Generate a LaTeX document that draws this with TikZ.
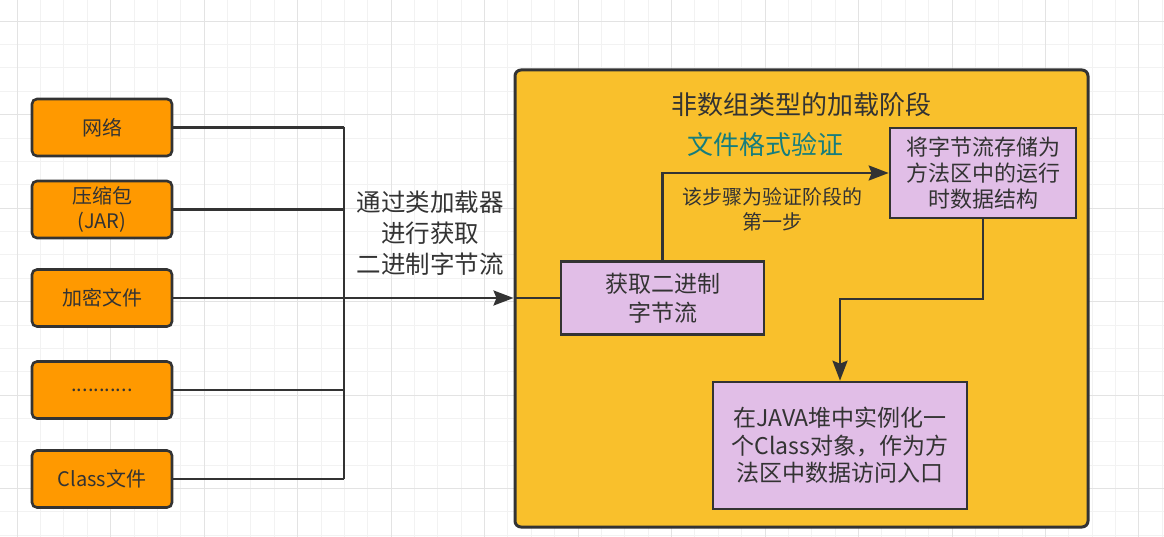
\documentclass[tikz,border=0pt]{standalone}
\usepackage{fontspec}
\setmainfont{Noto Sans CJK SC}
\usetikzlibrary{arrows.meta,calc}
\definecolor{ink}{HTML}{333333}
\definecolor{orangefill}{HTML}{FF9900}
\definecolor{yellowfill}{HTML}{F9C02C}
\definecolor{purplefill}{HTML}{E1BEE7}
\definecolor{tealtext}{HTML}{167D7D}
\definecolor{gridminor}{HTML}{F2F2F2}
\definecolor{gridmajor}{HTML}{E3E3E3}
\begin{document}
\begin{tikzpicture}[x=1pt,y=-1pt,
  src/.style={draw=ink, line width=2.6pt, fill=orangefill, rounded corners=5pt,
    minimum width=140pt, minimum height=57pt, text=ink,
    font=\fontsize{20}{25.6}\selectfont, align=center, inner sep=0pt},
  stagebox/.style={draw=ink, line width=2.6pt, fill=purplefill, text=ink,
    align=center, inner sep=0pt},
  conn/.style={draw=ink, line width=2.6pt},
  arr/.style={conn, -{Stealth[length=20pt,width=15pt,inset=3pt]}},
  txt/.style={text=ink, align=center, inner sep=0pt}]
\useasboundingbox (0,0) rectangle (1164,537);
\fill[white] (0,0) rectangle (1164,537);
% grid
\foreach \i in {0,...,49}{\draw[gridminor, line width=1pt] ({17.2+23.37*\i},0) -- ({17.2+23.37*\i},537);}
\foreach \i in {0,...,22}{\draw[gridminor, line width=1pt] (0,{21.2+23.37*\i}) -- (1164,{21.2+23.37*\i});}
\foreach \i in {0,4,...,48}{\draw[gridmajor, line width=1pt] ({17.2+23.37*\i},0) -- ({17.2+23.37*\i},537);}
\foreach \i in {0,4,...,20}{\draw[gridmajor, line width=1pt] (0,{21.2+23.37*\i}) -- (1164,{21.2+23.37*\i});}

% container
\node[draw=ink, line width=3pt, fill=yellowfill, rounded corners=6pt,
  minimum width=573pt, minimum height=457pt, inner sep=0pt] (stage) at (801.5,298.5) {};

% sources
\node[src] (net) at (102,127.5) {网络};
\node[src] (jar) at (102,209.5) {压缩包\\(JAR)};
\node[src] (enc) at (102,298) {加密文件};
\node[src] (etc) at (102,390) {...........};
\node[src] (cls) at (102,479) {Class文件};

% stage boxes
\node[stagebox, minimum width=203pt, minimum height=73pt, font=\fontsize{23}{29}\selectfont] (get) at (662.5,298) {获取二进制\\字节流};
\node[stagebox, minimum width=186pt, minimum height=90pt, font=\fontsize{22}{26}\selectfont] (store) at (983,173) {将字节流存储为\\方法区中的运行\\时数据结构};
\node[stagebox, minimum width=254pt, minimum height=127pt, font=\fontsize{23}{27.5}\selectfont] (inst) at (840,445.5) {在JAVA堆中实例化一\\个Class对象，作为方\\法区中数据访问入口};

% labels
\node[txt, font=\fontsize{26}{30}\selectfont] (title) at (801,105) {非数组类型的加载阶段};
\node[txt, text=tealtext, font=\fontsize{26}{30}\selectfont] (fmt) at (765,145) {文件格式验证};
\node[txt, font=\fontsize{20}{25}\selectfont] (note) at (772,209.5) {该步骤为验证阶段的\\第一步};
\node[txt, font=\fontsize{24.5}{31}\selectfont] (via) at (430,233) {通过类加载器\\进行获取\\二进制字节流};

% bus connectors
\coordinate (bus) at (344,0);
\draw[conn] (net.east) -- (net.east -| bus);
\draw[conn] (jar.east) -- (jar.east -| bus);
\draw[conn] (enc.east) -- (enc.east -| bus);
\draw[conn] (etc.east) -- (etc.east -| bus);
\draw[conn] (cls.east) -- (cls.east -| bus);
\draw[conn] (net.east -| bus) -- (cls.east -| bus);
\draw[arr] (enc.east -| bus) -- (enc.east -| stage.west);
\draw[conn] (enc.east -| stage.west) -- (get.west);

% inner connectors
\coordinate (mid) at (983,299);
\draw[arr] (get.north) |- (store.west);
\draw[arr] (store.south) -- (mid) -| (inst.north);
\end{tikzpicture}
\end{document}
